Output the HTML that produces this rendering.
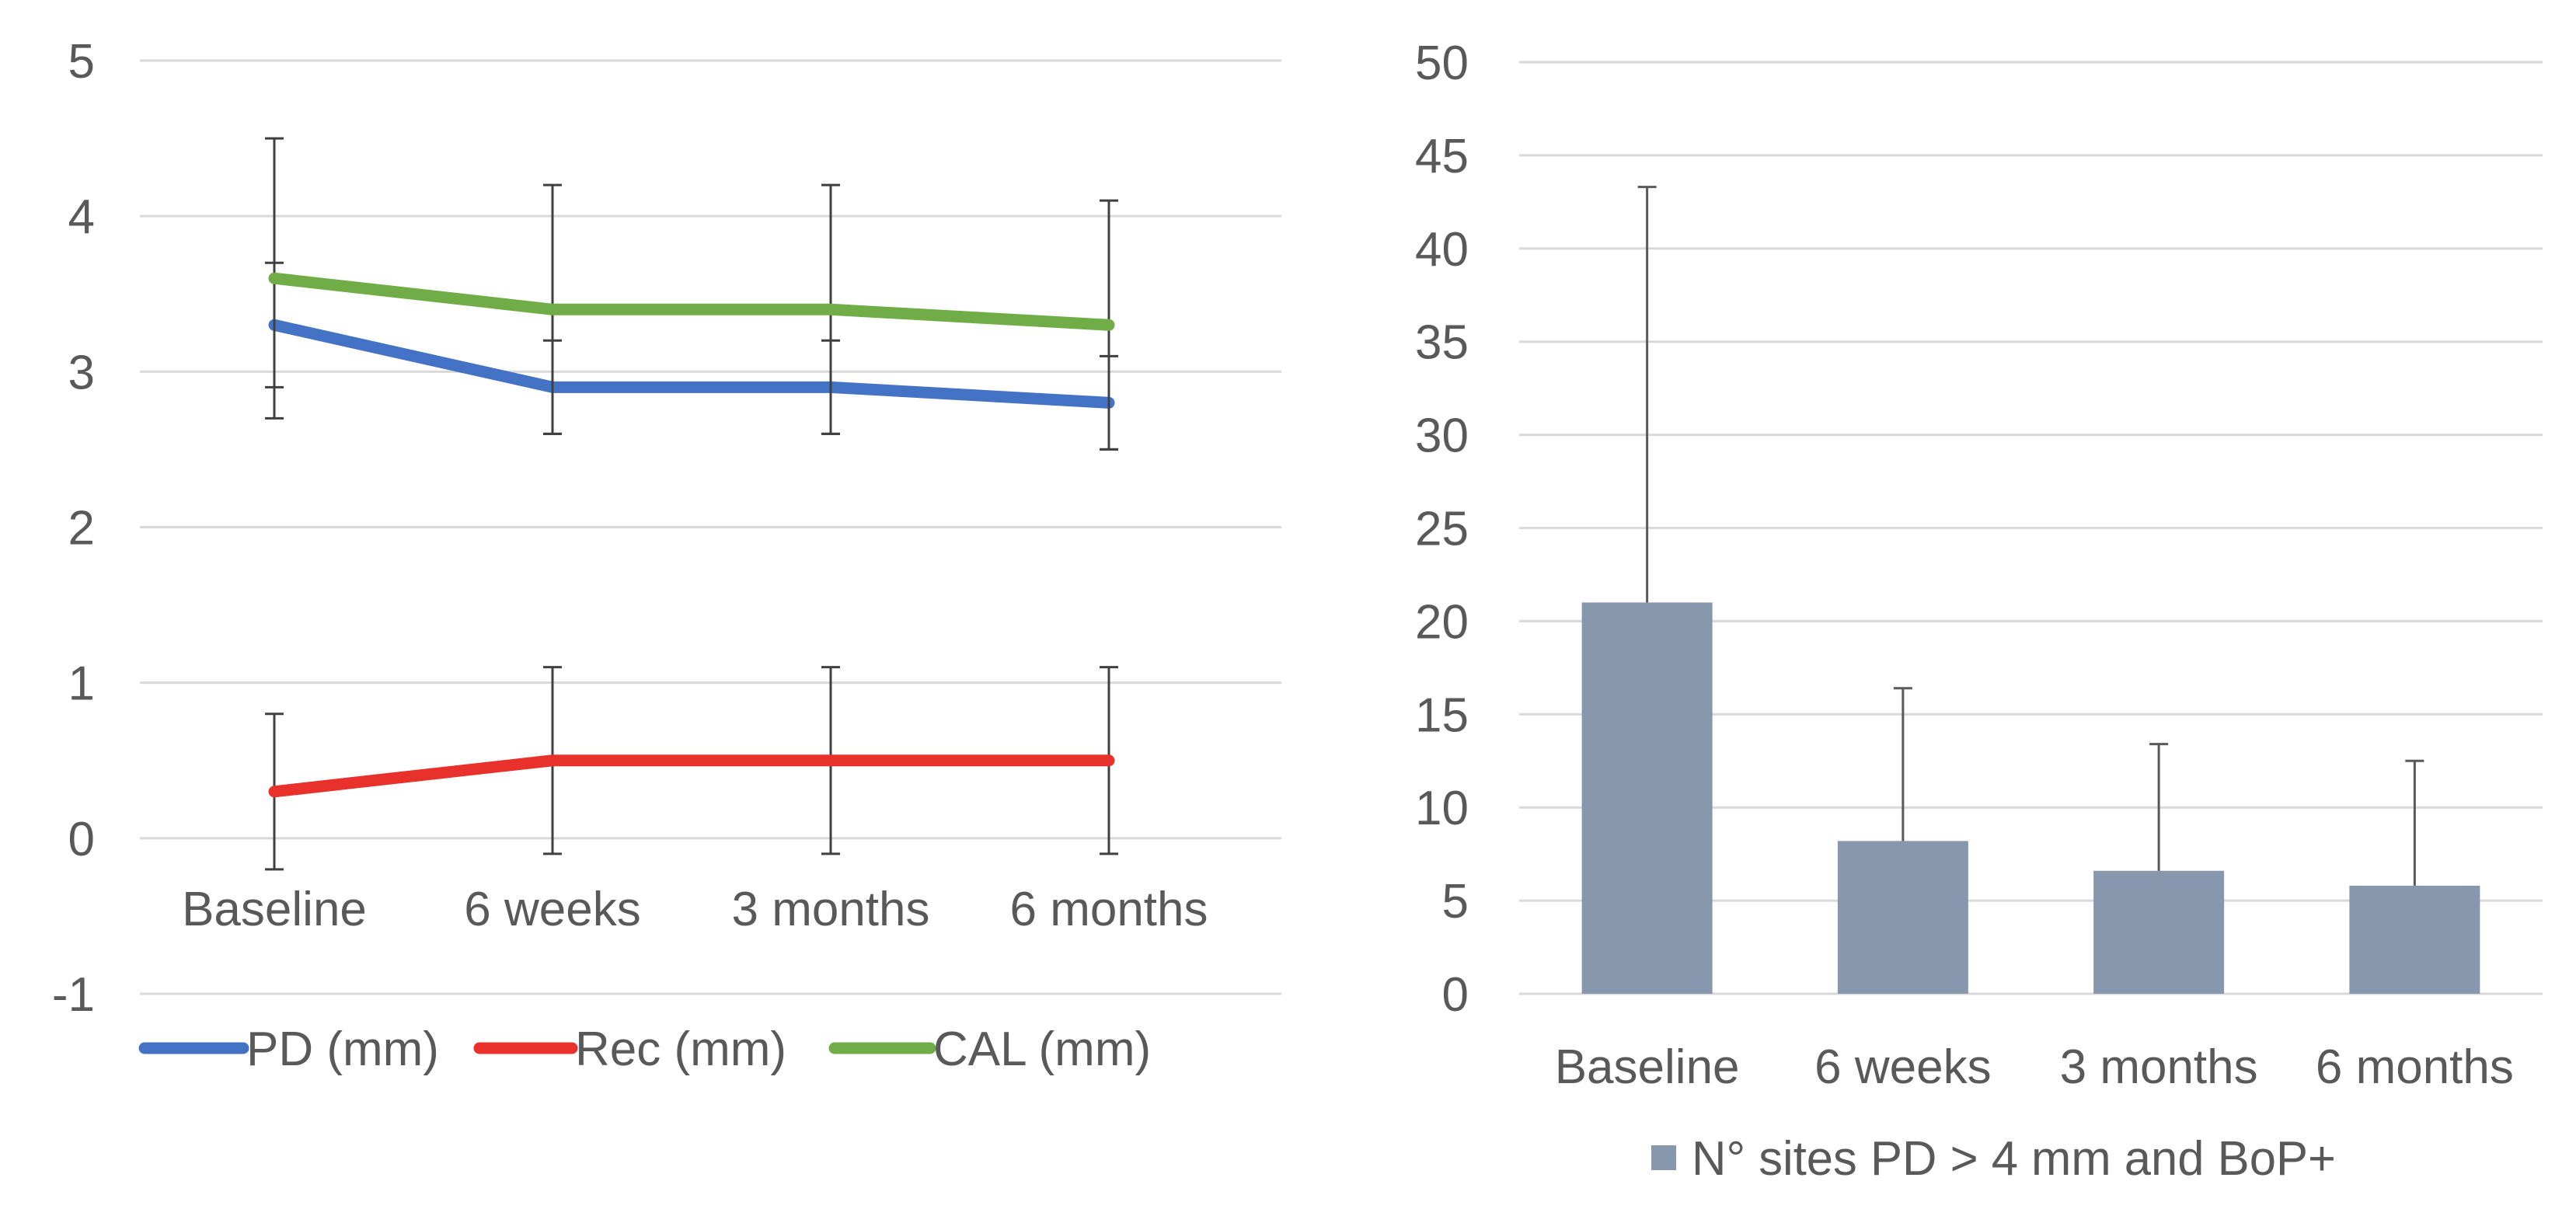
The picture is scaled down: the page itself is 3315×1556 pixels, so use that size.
<!DOCTYPE html>
<html><head><meta charset="utf-8"><style>
html,body{margin:0;padding:0;background:#fff;}
svg{display:block;font-family:"Liberation Sans",sans-serif;}
</style></head><body>
<svg id="c" width="3315" height="1556" viewBox="0 0 3315 1556" xmlns="http://www.w3.org/2000/svg"></svg>
<script>
const categories = ["Baseline","6 weeks","3 months","6 months"];
const pdValues = [3.3,2.9,2.9,2.8];
const pdErr = [0.4,0.3,0.3,0.3];
const recValues = [0.3,0.5,0.5,0.5];
const recErr = [0.5,0.6,0.6,0.6];
const calValues = [3.6,3.4,3.4,3.3];
const calErr = [0.9,0.8,0.8,0.8];
const leftTicks = [-1,0,1,2,3,4,5];
const barValues = [21,8.2,6.6,5.8];
const barErrUpper = [43.3,16.4,13.4,12.5];
const rightTicks = [0,5,10,15,20,25,30,35,40,45,50];

const svg = document.getElementById('c');
const NS = "http://www.w3.org/2000/svg";
function mk(tag, attrs, parent){
  const e = document.createElementNS(NS, tag);
  for (const k in attrs) e.setAttribute(k, attrs[k]);
  (parent||svg).appendChild(e);
  return e;
}
const GRAY = "#595959";
const FS = 62;

// ---------- Left chart ----------
const L = {x0:180, x1:1649, yTop:78, yBot:1279, vMin:-1, vMax:5, c0:353, step:358};
const ly = v => L.yBot - (v - L.vMin) / (L.vMax - L.vMin) * (L.yBot - L.yTop);
const lx = i => L.c0 + L.step * i;
const lg = mk('g', {});


leftTicks.forEach(t => {
  const g = mk('line', {x1:L.x0, x2:L.x1, y1:ly(t), y2:ly(t), stroke:"#d9d9d9", "stroke-width":3}, lg);
  
  
  const tx = mk('text', {x:122, y:ly(t)+22, "text-anchor":"end", "font-size":FS, fill:GRAY}, lg);
  
  
  tx.textContent = t;
});
categories.forEach((c, i) => {
  const tx = mk('text', {x:lx(i), y:1191, "text-anchor":"middle", "font-size":FS, fill:GRAY}, lg);
  
  
  tx.textContent = c;
});
function series(vals, errs, color, name){
  errs.forEach((e, i) => {
    const x = lx(i), a = ly(vals[i]+e), b = ly(vals[i]-e);
    const eb = mk('path', {d:`M${x},${a}V${b}M${x-12},${a}H${x+12}M${x-12},${b}H${x+12}`, stroke:"#404040", "stroke-width":3, fill:"none"}, lg);
    
    
  });
  const p = mk('polyline', {points: vals.map((v,i)=>`${lx(i)},${ly(v)}`).join(' '), stroke:color, "stroke-width":15, fill:"none", "stroke-linecap":"round", "stroke-linejoin":"round"}, lg);
  
  
}
series(pdValues, pdErr, "#4472c4", "pd");
series(calValues, calErr, "#70ad47", "cal");
series(recValues, recErr, "#e8312a", "rec");
[["PD (mm)","#4472c4",186,313],["Rec (mm)","#e8312a",617,736],["CAL (mm)","#70ad47",1074,1197]].forEach(([t,c,a,b]) => {
  const ln = mk('line', {x1:a, x2:b, y1:1349, y2:1349, stroke:c, "stroke-width":15, "stroke-linecap":"round"}, lg);
  
  
  const tx = mk('text', {x:b+4, y:1371, "font-size":FS, fill:GRAY}, lg);
  
  
  tx.textContent = t;
});

// ---------- Right chart ----------
const R = {x0:1955, x1:3272, yTop:80, yBot:1279, vMin:0, vMax:50};
const ry = v => R.yBot - (v - R.vMin) / (R.vMax - R.vMin) * (R.yBot - R.yTop);
const rx = i => R.x0 + (R.x1 - R.x0) * (i + 0.5) / categories.length;
const rg = mk('g', {});


rightTicks.forEach(t => {
  const g = mk('line', {x1:R.x0, x2:R.x1, y1:ry(t), y2:ry(t), stroke:"#d9d9d9", "stroke-width":3}, rg);
  
  
  const tx = mk('text', {x:1890, y:ry(t)+22, "text-anchor":"end", "font-size":FS, fill:GRAY}, rg);
  
  
  tx.textContent = t;
});
const bw = 168;
barValues.forEach((v, i) => {
  const b = mk('rect', {x:rx(i)-bw/2, y:ry(v), width:bw, height:ry(0)-ry(v), fill:"#8797ae"}, rg);
  
  
  const x = rx(i), top = ry(barErrUpper[i]);
  const eb = mk('path', {d:`M${x},${ry(v)}V${top}M${x-12},${top}H${x+12}`, stroke:"#595959", "stroke-width":3, fill:"none"}, rg);
  
  
  const tx = mk('text', {x:x, y:1394, "text-anchor":"middle", "font-size":FS, fill:GRAY}, rg);
  
  
  tx.textContent = categories[i];
});
const sq = mk('rect', {x:2125, y:1474, width:32, height:32, fill:"#8797ae"}, rg);


const lt = mk('text', {x:2177, y:1512, "font-size":FS, fill:GRAY, textLength:829, lengthAdjust:"spacingAndGlyphs"}, rg);


lt.textContent = "N° sites PD > 4 mm and BoP+";
</script>
</body></html>
